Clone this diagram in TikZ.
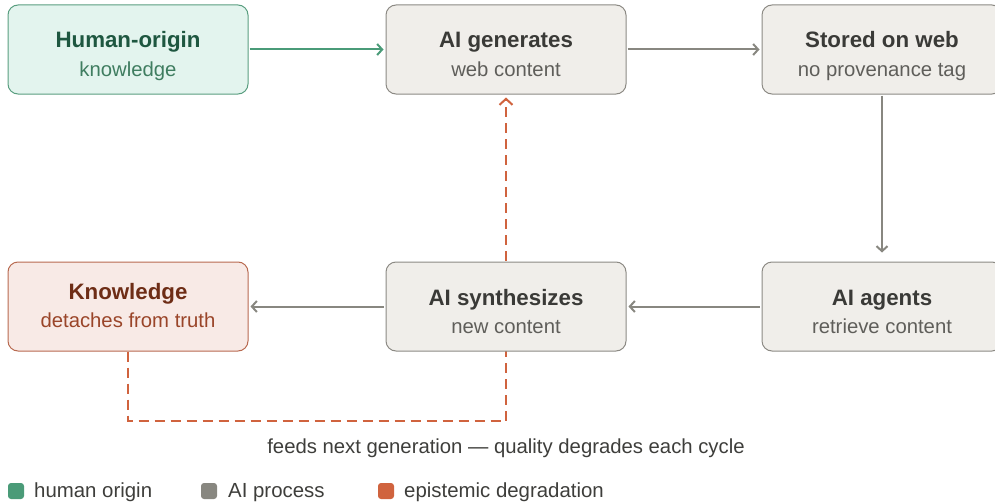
\documentclass[tikz,border=0pt]{standalone}
\usepackage{fontspec}
\setmainfont{Liberation Sans}
\usetikzlibrary{arrows.meta,backgrounds}

\definecolor{hfill}{HTML}{E3F4EE}
\definecolor{hline}{HTML}{5A9E80}
\definecolor{htitle}{HTML}{1E5740}
\definecolor{hsub}{HTML}{3F7D60}
\definecolor{gfill}{HTML}{F0EEEA}
\definecolor{gline}{HTML}{8C8A84}
\definecolor{gtitle}{HTML}{3A3A37}
\definecolor{gsub}{HTML}{5F5E5A}
\definecolor{rfill}{HTML}{F8EAE6}
\definecolor{rline}{HTML}{B86A50}
\definecolor{rtitle}{HTML}{6E2D16}
\definecolor{rsub}{HTML}{9A4529}
\definecolor{greenarr}{HTML}{4A9B78}
\definecolor{grayarr}{HTML}{888780}
\definecolor{redarr}{HTML}{D0633E}
\definecolor{ink}{HTML}{3E3E3B}

\begin{document}
\begin{tikzpicture}[
    x=1pt, y=-1pt,
    box/.style={draw, line width=1pt, rounded corners=10pt,
        minimum width=240pt, minimum height=89pt, inner sep=0pt},
    hbox/.style={box, draw=hline, fill=hfill},
    gbox/.style={box, draw=gline, fill=gfill},
    rbox/.style={box, draw=rline, fill=rfill},
    title/.style={anchor=base, inner sep=0pt, font=\fontsize{22.3}{26}\selectfont\bfseries},
    sub/.style={anchor=base, inner sep=0pt, font=\fontsize{20.3}{24}\selectfont},
    flow/.style={line width=2pt, -{Straight Barb[length=5pt,width=11pt]}},
    degr/.style={line width=2pt, draw=redarr, dash pattern=on 10pt off 6pt,
        -{Straight Barb[length=6pt,width=13pt]}},
    swatch/.style={rounded corners=3pt, minimum size=16pt, inner sep=0pt},
    legend/.style={anchor=base west, inner sep=0pt, text=ink, font=\fontsize{20.4}{24}\selectfont}
]
\useasboundingbox (0,0) rectangle (995,503);

% top row
\node[hbox] (human)  at (128,49.5) {};
\node[gbox] (gen)    at (506,49.5) {};
\node[gbox] (stored) at (882,49.5) {};
\node[title, text=htitle] (humanT)  at (128,48) {Human-origin};
\node[sub,   text=hsub]   (humanS)  at (128,76) {knowledge};
\node[title, text=gtitle] (genT)    at (506,48) {AI generates};
\node[sub,   text=gsub]   (genS)    at (506,76) {web content};
\node[title, text=gtitle] (storedT) at (882,48) {Stored on web};
\node[sub,   text=gsub]   (storedS) at (882,76) {no provenance tag};

% bottom row
\node[rbox] (detach) at (128,306.5) {};
\node[gbox] (synth)  at (506,306.5) {};
\node[gbox] (agents) at (882,306.5) {};
\node[title, text=rtitle] (detachT) at (128,299) {Knowledge};
\node[sub,   text=rsub]   (detachS) at (128,327) {detaches from truth};
\node[title, text=gtitle] (synthT)  at (506,305) {AI synthesizes};
\node[sub,   text=gsub]   (synthS)  at (506,333) {new content};
\node[title, text=gtitle] (agentsT) at (882,305) {AI agents};
\node[sub,   text=gsub]   (agentsS) at (882,333) {retrieve content};

% connectors
\draw[flow, draw=greenarr, shorten <=1pt, shorten >=2pt] (human) -- (gen);
\draw[flow, draw=grayarr, shorten <=1pt, shorten >=2pt] (gen) -- (stored);
\draw[flow, draw=grayarr, shorten <=1pt, shorten >=9pt] (stored) -- (agents);
\draw[flow, draw=grayarr, shorten <=2pt, shorten >=2pt] (agents) -- (synth);
\draw[flow, draw=grayarr, shorten <=2pt, shorten >=2pt] (synth) -- (detach);
% the loop runs behind the synth box
\coordinate (loop) at (128,421);
\begin{pgfonlayer}{background}
\draw[degr, shorten >=3pt] (detach.south) -- (loop) -| (gen.south);
\end{pgfonlayer}
\node[sub, text=ink] (cycle) at (506,453) {feeds next generation — quality degrades each cycle};

% legend
\node[swatch, fill=greenarr] (keyH) at (16,491) {};
\node[legend] (keyHT) at (34,497) {human origin};
\node[swatch, fill=grayarr]  (keyA) at (209,491) {};
\node[legend] (keyAT) at (228,497) {AI process};
\node[swatch, fill=redarr]   (keyD) at (386,491) {};
\node[legend] (keyDT) at (404,497) {epistemic degradation};
\end{tikzpicture}
\end{document}
